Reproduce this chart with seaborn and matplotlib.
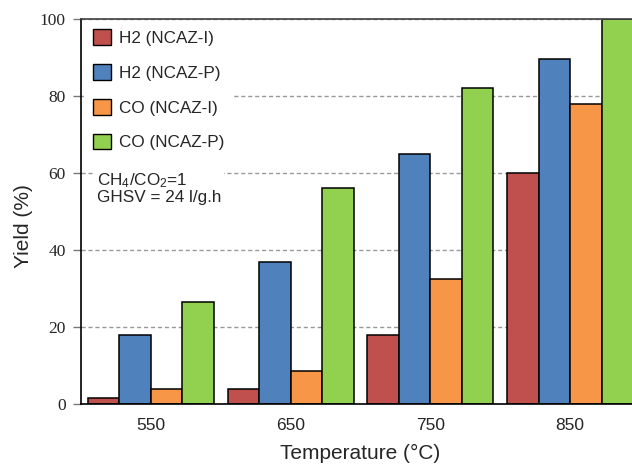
import matplotlib
matplotlib.use("Agg")
import matplotlib.pyplot as plt
import seaborn as sns
import pandas as pd

# Reaction temperatures and yields for each product / catalyst
temperatures = ["550", "650", "750", "850"]
series_names = ["H2 (NCAZ-I)", "H2 (NCAZ-P)", "CO (NCAZ-I)", "CO (NCAZ-P)"]
h2_ncaz_i = [1.5, 4.0, 18.0, 60.0]
h2_ncaz_p = [18.0, 37.0, 65.0, 89.5]
co_ncaz_i = [4.0, 8.5, 32.5, 78.0]
co_ncaz_p = [26.5, 56.0, 82.0, 100.0]
bar_colors = ["#C0504D", "#4F81BD", "#F79646", "#92D050"]
y_ticks = [0, 20, 40, 60, 80, 100]

rows = []
for name, vals in zip(series_names, [h2_ncaz_i, h2_ncaz_p, co_ncaz_i, co_ncaz_p]):
    for t, v in zip(temperatures, vals):
        rows.append({"Temperature": t, "Series": name, "Yield": v})
df = pd.DataFrame(rows)

sns.set_style("white")
plt.rcParams["font.family"] = ["Liberation Sans", "DejaVu Sans"]
plt.rcParams["mathtext.fontset"] = "custom"
plt.rcParams["mathtext.rm"] = "Liberation Sans"
plt.rcParams["mathtext.it"] = "Liberation Sans:italic"
plt.rcParams["mathtext.bf"] = "Liberation Sans:bold"

W, H = 632, 466
fig = plt.figure(figsize=(W / 100, H / 100), dpi=100)
# plot area: left edge at x=81px, 0% at y=404px, 100% at y=19px; right side runs past the canvas
ax = fig.add_axes([81 / W, (H - 404) / H, 559 / W, 385 / H])

sns.barplot(data=df, x="Temperature", y="Yield", hue="Series",
            order=temperatures, hue_order=series_names,
            palette=bar_colors, width=0.9, edgecolor="black", linewidth=1.1,
            saturation=1, ax=ax, zorder=2)

ax.set_xlim(-0.5, 3.5)
ax.set_ylim(0, 100)
ax.set_yticks(y_ticks)
ax.set_yticklabels([str(v) for v in y_ticks], family="Liberation Serif", fontsize=12.5)
ax.tick_params(axis="y", direction="out", length=6, width=1, color="#777777", pad=5, left=True)
ax.tick_params(axis="x", length=0, pad=10, labelsize=12.5)

ax.set_axisbelow(True)
ax.yaxis.grid(True, linestyle=(0, (3, 2)), color="#999999", linewidth=1)
ax.xaxis.grid(False)

for side in ["left", "bottom"]:
    ax.spines[side].set_color("black")
    ax.spines[side].set_linewidth(1.2)
ax.spines["top"].set_color("#404040")
ax.spines["top"].set_linewidth(1.2)
ax.spines["right"].set_visible(False)

ax.set_xlabel("Temperature (°C)", fontsize=15, labelpad=8)
ax.set_ylabel("Yield (%)", fontsize=15)
ax.yaxis.set_label_coords(-0.086, 0.462)

leg = ax.legend(loc="upper left", bbox_to_anchor=(0.006, 0.995), borderaxespad=0,
                borderpad=0.5, frameon=True, fancybox=False, framealpha=1,
                facecolor="white", edgecolor="none", fontsize=12.3,
                handlelength=1.05, handleheight=1.05, handletextpad=0.47,
                labelspacing=1.05)
leg.set_zorder(5)
for patch in leg.get_patches():
    patch.set_edgecolor("black")
    patch.set_linewidth(1.0)

ax.text(0.028, 0.605, "CH$_4$/CO$_2$=1\nGHSV = 24 l/g.h", transform=ax.transAxes,
        ha="left", va="top", fontsize=12.3, linespacing=1.0, zorder=5,
        bbox=dict(facecolor="white", edgecolor="none", pad=2))

fig.savefig("out.png", dpi=100)
